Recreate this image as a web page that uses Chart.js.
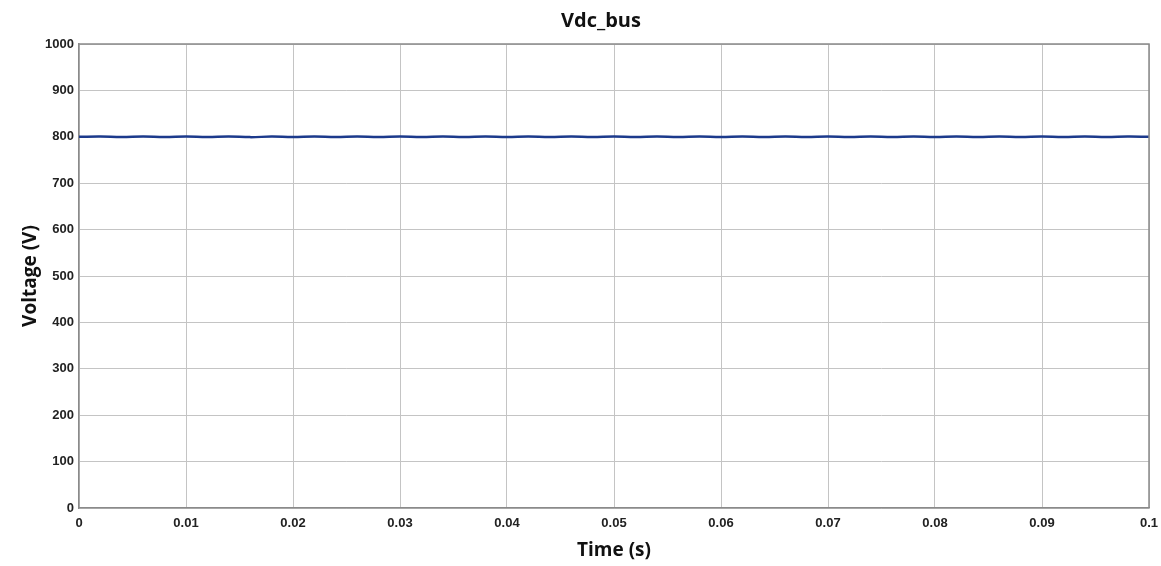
<!DOCTYPE html>
<html>
<head>
<meta charset="utf-8">
<title>Vdc_bus</title>
<script src="https://cdn.jsdelivr.net/npm/chart.js@4.4.0/dist/chart.umd.min.js"></script>
<style>
  html, body { margin: 0; padding: 0; background: #fff; }
  #wrap { width: 1161px; height: 566px; }
</style>
</head>
<body>
<div id="wrap"><canvas id="myChart" width="1161" height="566"></canvas></div>
<script>
// time samples (s), every 2 ms
const timeS = [
  0.000, 0.002, 0.004, 0.006, 0.008, 0.010, 0.012, 0.014, 0.016, 0.018,
  0.020, 0.022, 0.024, 0.026, 0.028, 0.030, 0.032, 0.034, 0.036, 0.038,
  0.040, 0.042, 0.044, 0.046, 0.048, 0.050, 0.052, 0.054, 0.056, 0.058,
  0.060, 0.062, 0.064, 0.066, 0.068, 0.070, 0.072, 0.074, 0.076, 0.078,
  0.080, 0.082, 0.084, 0.086, 0.088, 0.090, 0.092, 0.094, 0.096, 0.098,
  0.100
];
// dc bus voltage (V) - small ripple around 800
const vdcBus = [
  800, 800.5, 799.5, 800.6, 799.4, 800.5, 799.6, 800.7, 799.3, 800.4,
  799.6, 800.6, 799.5, 800.5, 799.4, 800.6, 799.5, 800.4, 799.6, 800.6,
  799.5, 800.5, 799.4, 800.5, 799.5, 800.6, 799.4, 800.5, 799.6, 800.5,
  799.5, 800.6, 799.4, 800.4, 799.6, 800.5, 799.5, 800.6, 799.4, 800.5,
  799.5, 800.6, 799.5, 800.4, 799.6, 800.5, 799.4, 800.6, 799.5, 800.4,
  800
];
const xTicks = [0, 0.01, 0.02, 0.03, 0.04, 0.05, 0.06, 0.07, 0.08, 0.09, 0.1];
const yTicks = [0, 100, 200, 300, 400, 500, 600, 700, 800, 900, 1000];
const chartTitle = 'Vdc_bus';

const points = timeS.map((t, i) => ({ x: t, y: vdcBus[i] }));

const tickFont = { family: 'Liberation Sans, Arial, sans-serif', size: 13, weight: 'bold' };
const titleFont = { family: 'Open Sans, sans-serif', size: 19, weight: 'bold' };

const ctx = document.getElementById('myChart').getContext('2d');
const myChart = new Chart(ctx, {
  type: 'line',
  data: {
    datasets: [{
      data: points,
      borderColor: '#1c3a8c',
      borderWidth: 2.5,
      pointRadius: 0,
      tension: 0.4,
      fill: false
    }]
  },
  options: {
    responsive: false,
    animation: false,
    layout: { padding: { left: 0, right: 12, top: 44, bottom: 0 } },
    plugins: {
      legend: { display: false },
      tooltip: { enabled: false },
      title: { display: false }
    },
    scales: {
      x: {
        type: 'linear',
        min: 0,
        max: 0.1,
        afterBuildTicks: axis => { axis.ticks = xTicks.map(v => ({ value: v })); },
        afterFit: axis => {
          axis.height = 58;
          axis.paddingLeft = 0;
          axis.paddingRight = 0;
        },
        ticks: {
          color: '#222',
          font: tickFont,
          padding: 8,
          maxRotation: 0,
          callback: v => String(parseFloat(v.toFixed(2)))
        },
        grid: { color: '#c4c4c4', lineWidth: 1, drawTicks: false },
        border: { color: '#8a8a8a', width: 1.5 },
        title: {
          display: true,
          text: 'Time (s)',
          color: '#111',
          font: titleFont,
          padding: { top: 0, bottom: 4 }
        }
      },
      y: {
        min: 0,
        max: 1000,
        afterBuildTicks: axis => { axis.ticks = yTicks.map(v => ({ value: v })); },
        afterFit: axis => { axis.width = 79; },
        ticks: {
          color: '#222',
          font: tickFont,
          padding: 5,
          callback: v => String(v)
        },
        grid: { color: '#c4c4c4', lineWidth: 1, drawTicks: false },
        border: { color: '#8a8a8a', width: 1.5 },
        title: {
          display: true,
          text: 'Voltage (V)',
          color: '#111',
          font: titleFont,
          padding: { top: 19, bottom: 0 }
        }
      }
    }
  },
  plugins: [{
    // close the box on top/right and put the title a bit left of centre like the original
    id: 'frame',
    afterDraw(chart) {
      const a = chart.chartArea;
      const c = chart.ctx;
      c.save();
      c.strokeStyle = '#8a8a8a';
      c.lineWidth = 1.5;
      c.beginPath();
      c.moveTo(a.left, a.top);
      c.lineTo(a.right, a.top);
      c.lineTo(a.right, a.bottom);
      c.stroke();

      c.fillStyle = '#111';
      c.font = 'bold 20px "Open Sans", sans-serif';
      c.textAlign = 'center';
      c.textBaseline = 'middle';
      c.fillText(chartTitle, (a.left + a.right) / 2 - 13, a.top - 23);
      c.restore();
    }
  }]
});
</script>
</body>
</html>
